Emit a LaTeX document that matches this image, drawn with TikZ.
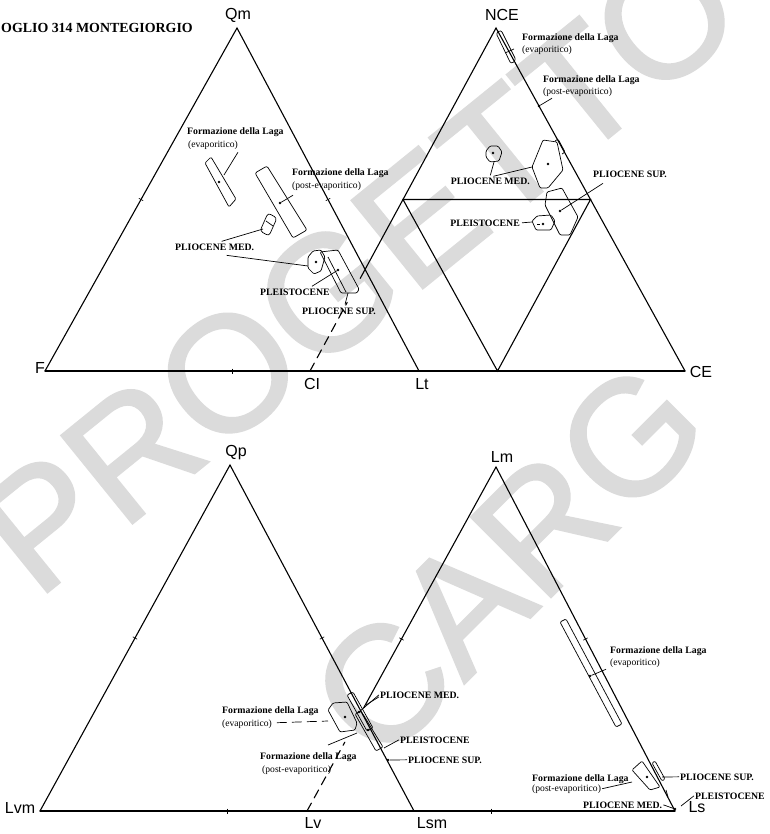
\documentclass[tikz,border=0pt]{standalone}
\usepackage{fontspec}
\setmainfont{Liberation Serif}
\setsansfont{Liberation Sans}
\usetikzlibrary{calc}
\font\wmfont="Liberation Sans:embolden=1.5" at 164pt
\begin{document}
\begin{tikzpicture}[x=1pt,y=-1pt,
  tri/.style={line width=1.1pt, line cap=round},
  bx/.style={line width=0.7pt, line join=round, rounded corners=1.2pt},
  ld/.style={line width=0.7pt},
  vl/.style={font=\sffamily\fontsize{16}{16}\selectfont, inner sep=0pt},
  lb/.style={font=\bfseries\fontsize{9.8}{11}\selectfont, inner sep=0pt},
  lr/.style={font=\fontsize{9.6}{11}\selectfont, inner sep=0pt},
  pt/.style={circle, fill, inner sep=0pt, minimum size=2.6pt},
  tk/.style={line width=0.6pt},
  wm/.style={font=\wmfont, text=black!14, inner sep=0pt}]
\useasboundingbox (0,0) rectangle (769,834);
\fill[white] (0,0) rectangle (769,834);
% watermark
\node[wm, rotate=39] (wm1) at (358,268) {PROGETTO};
\node[wm, rotate=45] (wm2) at (508,560) {CARG};
% title
\node[font=\bfseries\fontsize{13.9}{14}\selectfont, inner sep=0pt, anchor=base west] (title) at (1,33) {OGLIO 314 MONTEGIORGIO};
% vertices
\coordinate (Qm) at (237,28);
\coordinate (F) at (45,371);
\coordinate (Lt) at (419,371);
\coordinate (NCE) at (496,28);
\coordinate (CI) at (310,371);
\coordinate (CE) at (685,371);
\coordinate (Qp) at (230,465);
\coordinate (Lvm) at (40,811);
\coordinate (Lsm) at (414,811);
\coordinate (Lm) at (496,467);
\coordinate (Lv) at (307,811);
\coordinate (Ls) at (675,811);
% triangles
\draw[tri] (F) -- (Qm) -- (Lt);
\draw[tri] (F) -- (CE);
\draw[tri] (CE) -- (NCE) -- ($(NCE)!0.73!(CI)$);
\draw[tri, dash pattern=on 9pt off 6pt] (CI) -- ($(CI)!0.2!(NCE)$);
\draw[tri] ($(NCE)!0.5!(CI)$) -- ($(NCE)!0.5!(CE)$) -- ($(CI)!0.5!(CE)$) -- cycle;
\draw[tri] (Lvm) -- (Qp) -- (Lsm);
\draw[tri] (Lvm) -- (Ls);
\draw[tri] (Ls) -- (Lm) -- ($(Lm)!0.70!(Lv)$);
\draw[tri, dash pattern=on 9pt off 6pt] (Lv) -- ($(Lv)!0.2!(Lm)$);
% ticks
\foreach \a/\b in {F/Qm, Qm/Lt, F/Lt, Lvm/Qp, Qp/Lsm, Lvm/Lsm, Lv/Lm, Lm/Ls, Lv/Ls}
  \draw[tk] ($(\a)!0.5!(\b)!2.5pt!90:(\b)$) -- ($(\a)!0.5!(\b)!2.5pt!-90:(\b)$);
% vertex labels
\node[vl] (tQm) at (238,15) {Qm};
\node[vl] (tNCE) at (502,15) {NCE};
\node[vl] (tF) at (40,368) {F};
\node[vl] (tCI) at (312,384) {CI};
\node[vl] (tLt) at (422,384) {Lt};
\node[vl] (tCE) at (701,372) {CE};
\node[vl] (tQp) at (236,453) {Qp};
\node[vl] (tLm) at (502,457) {Lm};
\node[vl] (tLvm) at (20,808) {Lvm};
\node[vl] (tLv) at (313,823) {Lv};
\node[vl] (tLsm) at (432,823) {Lsm};
\node[vl] (tLs) at (697,807) {Ls};

% ---------- top-left ----------
\node[lb, anchor=base west] (L1a) at (187,135) {Formazione della Laga};
\node[lr, anchor=base west] (L1b) at (188,148) {(evaporitico)};
\draw[bx] (205,163) -- (211,157) -- (236,199) -- (229,207) -- cycle;
\node[pt] (d1) at (219,182) {};
\coordinate (e1) at (224,175);
\draw[ld] ($(L1b.south east)+(0,2)$) -- (e1);

\node[lb, anchor=base west] (L2a) at (292,176) {Formazione della Laga};
\node[lr, anchor=base west] (L2b) at (292,189) {(post-evaporitico)};
\draw[bx, rounded corners=2pt] (255,173) -- (267,166) -- (307,230) -- (293,238) -- cycle;
\node[pt] (d2) at (280,203) {};
\draw[ld] ($(L2b.south west)+(1,4)$) -- (d2);

\node[lb, anchor=base west] (L3) at (175,251) {PLIOCENE MED.};
\draw[bx, rounded corners=3pt] (268,213) -- (277,218) -- (269,236) -- (260,231) -- cycle;
\draw[ld] (266,221) -- (273,226);
\coordinate (e3) at (263,229);
\draw[ld] ($(L3.north)+(7,-3)$) -- (e3);
\coordinate (e3b) at (308,266);
\draw[ld] ($(L3.south)+(12,4)$) -- (e3b);
\draw[bx] (308,257) -- (313,251) -- (321,250) -- (325,257) -- (321,271) -- (314,274) -- (308,268) -- cycle;
\node[pt] (d3) at (316,262) {};

\node[lb, anchor=base west] (L4) at (260,295) {PLEISTOCENE};
\draw[bx] (320,252) -- (338,250) -- (359,289) -- (357,293) -- (341,293) -- cycle;
\draw[ld] (328,257) -- (346,292);
\node[pt] (d4) at (338,270) {};
\draw[ld] ($(L4.north east)+(-18,-2)$) -- (d4);

\node[lb, anchor=base west] (L5) at (302,314) {PLIOCENE SUP.};
\coordinate (e5) at (348,293);
\draw[ld] ($(L5.north)+(6,-3)$) -- (e5);

% ---------- top-right ----------
\node[lb, anchor=base west] (R1a) at (522,41) {Formazione della Laga};
\node[lr, anchor=base west] (R1b) at (522,53) {(evaporitico)};
\draw[bx, rounded corners=2.5pt] (496,33) -- (501,30) -- (516,60) -- (511,64) -- cycle;
\draw[ld] (505,53) -- (514,49);

\node[lb, anchor=base west] (R2a) at (543,83) {Formazione della Laga};
\node[lr, anchor=base west] (R2b) at (543,95) {(post-evaporitico)};
\node[pt] (d6) at (539,106) {};
\draw[ld] ($(R2b.south west)+(9,1)$) -- (d6);

\node[lb, anchor=base east] (R3) at (530,185) {PLIOCENE MED.};
\draw[bx] (486,151) -- (490,146) -- (498,146) -- (502,152) -- (499,161) -- (490,162) -- (486,157) -- cycle;
\node[pt] (d7) at (493,153) {};
\draw[ld] (494,162) -- ($(R3.north)+(0,-3)$);
\coordinate (e8) at (532,167);
\draw[ld] ($(R3.north)+(3,-2)$) -- (e8);
\draw[bx] (532,167) -- (543,140) -- (557,142) -- (563,170) -- (548,188) -- (540,188) -- cycle;
\node[pt] (d8) at (548,164) {};
\draw[bx] (555,141) -- (558,139) -- (565,152) -- (562,154);

\node[lb, anchor=base west] (R4) at (593,178) {PLIOCENE SUP.};
\draw[bx] (545,205) -- (547,192) -- (562,188) -- (578,217) -- (570,235) -- (560,235) -- cycle;
\node[pt] (d9) at (560,211) {};
\draw[ld] ($(R4.south west)+(10,5)$) -- (d9);

\node[lb, anchor=base east] (R5) at (520,226) {PLEISTOCENE};
\draw[bx] (532,221) -- (537,216) -- (551,215) -- (555,221) -- (551,230) -- (536,230) -- cycle;
\node[pt] (d10) at (543,224) {};
\draw[ld] (537,224) -- (540,224);
\coordinate (e10) at (532,222);
\draw[ld] ($(R5.east)+(2,0)$) -- (e10);

% ---------- bottom-left ----------
\node[lb, anchor=base west] (B1a) at (222,713) {Formazione della Laga};
\node[lr, anchor=base west] (B1b) at (222,726) {(evaporitico)};
\draw[bx] (328,710) -- (333,703) -- (347,702) -- (357,723) -- (355,730) -- (340,732) -- cycle;
\node[pt] (d11) at (345,717) {};
\coordinate (e11) at (328,721);
\draw[ld, dash pattern=on 10pt off 5pt] ($(B1b.east)+(5,-1)$) -- (e11);
\draw[bx] (347,695) -- (353,692) -- (373,728) -- (367,731) -- cycle;
\draw[bx] (355,714) -- (361,711) -- (383,747) -- (376,751) -- cycle;
\node[pt] (d12) at (359,712) {};
\node[pt] (d13) at (368,730) {};

\node[lb, anchor=base west] (B3) at (380,698) {PLIOCENE MED.};
\coordinate (e14) at (366,705);
\draw[ld] ($(B3.west)+(-1,0)$) -- (d12);
\draw[ld] ($(B3.west)+(-1,2)$) -- (e14);

\node[lb, anchor=base west] (B4) at (400,743) {PLEISTOCENE};
\coordinate (e15) at (384,748);
\draw[ld] ($(B4.west)+(-1,0)$) -- (e15);

\node[lb, anchor=base west] (B5) at (408,763) {PLIOCENE SUP.};
\node[pt] (d16) at (388,760) {};
\draw[ld] ($(B5.west)+(-1,0)$) -- (d16);

\node[lb, anchor=base west] (B2a) at (260,759) {Formazione della Laga};
\node[lr, anchor=base west] (B2b) at (262,772) {(post-evaporitico)};
\coordinate (e17) at (357,733);
\coordinate (s17) at (328,745);
\draw[ld] (s17) -- (e17);

% ---------- bottom-right ----------
\node[lb, anchor=base west] (C1a) at (610,653) {Formazione della Laga};
\node[lr, anchor=base west] (C1b) at (610,665) {(evaporitico)};
\draw[bx] (560,622) -- (566,619) -- (622,724) -- (616,727) -- cycle;
\node[pt] (d18) at (590,676) {};
\draw[ld] ($(C1b.south west)+(-4,2)$) -- (d18);

\node[lb, anchor=base west] (C2a) at (532,781) {Formazione della Laga};
\node[lr, anchor=base west] (C2b) at (532,791) {(post-evaporitico)};
\draw[bx] (632,770) -- (642,761) -- (660,787) -- (650,790) -- cycle;
\node[pt] (d19) at (647,777) {};
\coordinate (e19) at (632,782);
\draw[ld] ($(C2b.east)+(1,0)$) -- (e19);
\draw[bx] (652,763) -- (655,761) -- (665,779) -- (662,781) -- cycle;

\node[lb, anchor=base west] (C3) at (680,780) {PLIOCENE SUP.};
\coordinate (e20) at (662,777);
\draw[ld] ($(C3.west)+(-1,0)$) -- (e20);

\node[lb, anchor=base west] (C4) at (583,808) {PLIOCENE MED.};
\node[pt] (d21) at (675,809) {};
\draw[ld] ($(C4.east)+(1,0)$) -- (d21);

\node[lb, anchor=base west] (C5) at (695,799) {PLEISTOCENE};
\coordinate (e22) at (681,806);
\draw[ld] ($(C5.west)+(-1,0)$) -- (e22);
\draw[ld] (666,790) -- (668,797);
\end{tikzpicture}
\end{document}
